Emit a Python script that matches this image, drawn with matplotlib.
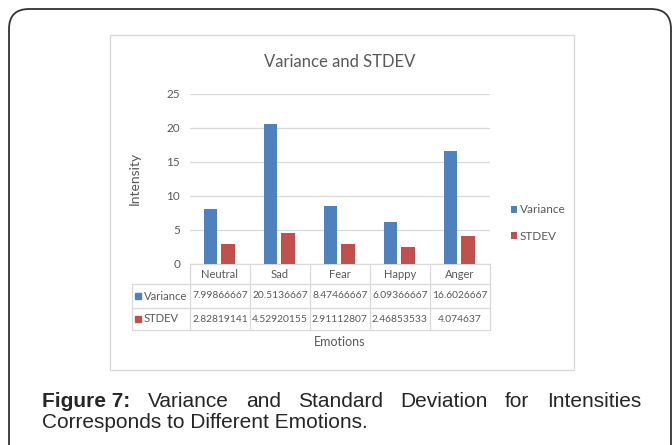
import numpy as np
import matplotlib
matplotlib.use("Agg")
import matplotlib.pyplot as plt
from matplotlib.patches import FancyBboxPatch, Rectangle

# data
emotions = ["Neutral", "Sad", "Fear", "Happy", "Anger"]
variance = [7.99866667, 20.5136667, 8.47466667, 6.09366667, 16.6026667]
stdev = [2.82819141, 4.52920155, 2.91112807, 2.46853533, 4.074637]
series_names = ["Variance", "STDEV"]
yticks = [0, 5, 10, 15, 20, 25]

chart_title = "Variance and STDEV"
caption_bold = "Figure 7:"
caption_line1 = "Variance and Standard Deviation for Intensities"
caption_line2 = "Corresponds to Different Emotions."

W, H = 672, 445
BLUE = "#4f81bd"
RED = "#c0504d"
TXT = "#595959"
GRID = "#d9d9d9"
CFONT = "Lato"

fig = plt.figure(figsize=(W / 100, H / 100), dpi=100)
fig.patch.set_facecolor("white")

# pixel-space canvas for frames, table and caption
bg = fig.add_axes([0, 0, 1, 1])
bg.set_xlim(0, W)
bg.set_ylim(H, 0)
bg.axis("off")

# outer rounded frame (runs off the bottom)
bg.add_patch(FancyBboxPatch((9, 9), 662, 470, boxstyle="round,pad=0,rounding_size=20",
                            fc="none", ec="#333333", lw=1.3, clip_on=False))
# chart box
bg.add_patch(Rectangle((110, 35), 464, 335, fc="white", ec=GRID, lw=1))

bg.text(340, 62, chart_title, ha="center", va="center", color=TXT, fontsize=12, family=CFONT)

# plot area
x0, x1, ytop, ybot = 190, 490, 94, 263.5
ax = fig.add_axes([x0 / W, 1 - ybot / H, (x1 - x0) / W, (ybot - ytop) / H])
ax.set_facecolor("none")
x = np.arange(len(emotions))
b1 = ax.bar(x - 0.155, variance, width=0.225, color=BLUE, label=series_names[0], zorder=3)
b2 = ax.bar(x + 0.135, stdev, width=0.225, color=RED, label=series_names[1], zorder=3)
ax.set_xlim(-0.5, len(emotions) - 0.5)
ax.set_ylim(0, 25)
ax.set_yticks(yticks)
ax.set_xticks([])
for s in ax.spines.values():
    s.set_visible(False)
ax.grid(axis="y", color=GRID, lw=0.9, zorder=0)
ax.tick_params(axis="y", length=0, pad=7, labelcolor=TXT, labelsize=8.5)
for lab in ax.get_yticklabels():
    lab.set_family(CFONT)

# data table under the axis
col_w = (x1 - x0) / len(emotions)
rows = [264, 284, 308, 330]
lk = dict(color=GRID, lw=0.9)
bg.plot([x0, x1], [rows[0], rows[0]], **lk)
for yy in rows[1:]:
    bg.plot([132, x1], [yy, yy], **lk)
bg.plot([132, 132], [rows[1], rows[3]], **lk)
for k in range(len(emotions) + 1):
    xx = x0 + k * col_w
    bg.plot([xx, xx], [rows[0], rows[3]], **lk)

tk = dict(ha="center", va="center", color=TXT, family=CFONT)
for k, name in enumerate(emotions):
    cx = x0 + (k + 0.5) * col_w
    bg.text(cx, (rows[0] + rows[1]) / 2, name, fontsize=8, **tk)
    bg.text(cx, (rows[1] + rows[2]) / 2, f"{variance[k]:.9g}", fontsize=7.4, **tk)
    bg.text(cx, (rows[2] + rows[3]) / 2, f"{stdev[k]:.9g}", fontsize=7.4, **tk)
for r, (name, col) in enumerate(zip(series_names, [BLUE, RED])):
    cy = (rows[r + 1] + rows[r + 2]) / 2
    bg.add_patch(Rectangle((135, cy - 3), 6, 6, color=col))
    bg.text(144, cy, name, ha="left", va="center", color=TXT, fontsize=8.1, family=CFONT)

bg.text(135, 178, "Intensity", rotation=90, ha="center", va="center", color=TXT,
        fontsize=10, family=CFONT)
bg.text(340, 342, "Emotions", ha="center", va="center", color=TXT, fontsize=9, family=CFONT)

fig.legend(handles=[b1, b2], labels=series_names, loc="center left",
           bbox_to_anchor=(500 / W, 1 - 223 / H), frameon=False,
           handlelength=0.55, handleheight=0.55, handletextpad=0.25, labelspacing=1.3,
           prop={"family": CFONT, "size": 8.5}, labelcolor=TXT)

# caption, first line justified between the margins
CAP = dict(family="Liberation Sans", fontsize=15, color="#262626", va="baseline")
left, right = 42, 641
words = [(caption_bold, "bold")] + [(w, "normal") for w in caption_line1.split()]
objs = [bg.text(left, 407, w, fontweight=fw, **CAP) for w, fw in words]
fig.canvas.draw()
rend = fig.canvas.get_renderer()
inv = bg.transData.inverted()
widths = []
for t in objs:
    bb = t.get_window_extent(rend)
    (ax0, _), (ax1, _) = inv.transform([[bb.x0, bb.y0], [bb.x1, bb.y1]])
    widths.append(ax1 - ax0)
gap = (right - left - sum(widths)) / (len(objs) - 1)
pos = left
for t, w in zip(objs, widths):
    t.set_x(pos)
    pos += w + gap
bg.text(left, 428, caption_line2, **CAP)

fig.savefig("out.png", dpi=100)
